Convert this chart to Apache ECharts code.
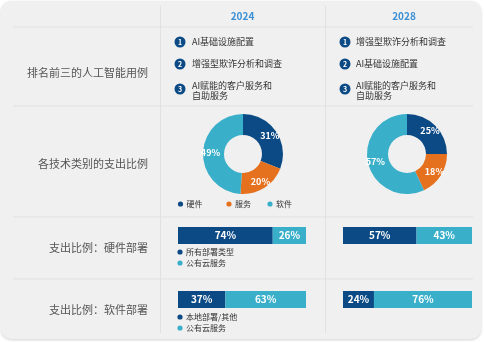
<!DOCTYPE html>
<html>
<head>
<meta charset="utf-8">
<script src="https://cdn.jsdelivr.net/npm/echarts@6/dist/echarts.min.js"></script>
<style>
  html, body { margin: 0; padding: 0; background: #ffffff; }
  #chart { width: 484px; height: 342px; }
</style>
</head>
<body>
<div id="chart"></div>
<script>
// Column headings
const years = ['2024', '2028'];

// Row headings (left column)
const rowLabels = ['排名前三的人工智能用例', '各技术类别的支出比例', '支出比例：硬件部署', '支出比例：软件部署'];

// Top three AI use cases per year
const useCases2024 = ['AI基础设施配置', '增强型欺诈分析和调查', 'AI赋能的客户服务和\n自助服务'];
const useCases2028 = ['增强型欺诈分析和调查', 'AI基础设施配置', 'AI赋能的客户服务和\n自助服务'];

// Spending share by technology category (%)
const techCategories = ['硬件', '服务', '软件'];
const techShare2024 = [31, 20, 49];
const techShare2028 = [25, 18, 57];

// Hardware deployment spending share (%)
const hwDeployCategories = ['所有部署类型', '公有云服务'];
const hwDeploy2024 = [74, 26];
const hwDeploy2028 = [57, 43];

// Software deployment spending share (%)
const swDeployCategories = ['本地部署/其他', '公有云服务'];
const swDeploy2024 = [37, 63];
const swDeploy2028 = [24, 76];

const DARK = '#0b4a84';
const ORANGE = '#e5711f';
const TEAL = '#39afca';
const LINE = '#e1e1e1';
const FONT = '"Noto Sans CJK SC", "Noto Sans", sans-serif';

const chart = echarts.init(document.getElementById('chart'), null, { renderer: 'canvas' });

const colYearCenter = [242.5, 404];
const colLeft = [178, 343];
const listX = [[180, 192], [345, 356]];

const graphics = [];

// panel background
graphics.push({
  type: 'rect', z: -10, silent: true,
  shape: { x: 1, y: 1, width: 480, height: 338, r: 10 },
  style: { fill: '#f0f0f0', shadowBlur: 3, shadowColor: 'rgba(0,0,0,0.18)', shadowOffsetY: 1 }
});

// grid lines
[27, 106, 217, 279].forEach(y => graphics.push({
  type: 'line', z: -5, silent: true,
  shape: { x1: 13, y1: y, x2: 473, y2: y },
  style: { stroke: LINE, lineWidth: 1 }
}));
[160.5, 325.5].forEach(x => graphics.push({
  type: 'line', z: -5, silent: true,
  shape: { x1: x, y1: 6, x2: x, y2: 333 },
  style: { stroke: LINE, lineWidth: 1 }
}));

// year headings
years.forEach((yr, i) => graphics.push({
  type: 'text', x: colYearCenter[i], y: 16,
  style: { text: yr, fill: '#3b8fd4', font: 'bold 10px ' + FONT, align: 'center', verticalAlign: 'middle' }
}));

// row headings
const rowY = [73, 164, 248, 310];
rowLabels.forEach((t, i) => graphics.push({
  type: 'text', x: 148, y: rowY[i],
  style: { text: t, fill: '#555555', font: '11px ' + FONT, align: 'right', verticalAlign: 'middle' }
}));

// numbered use-case lists
const itemY = [42, 64, 89];
[useCases2024, useCases2028].forEach((list, c) => {
  list.forEach((t, k) => {
    graphics.push({
      type: 'circle', x: listX[c][0], y: itemY[k],
      shape: { cx: 0, cy: 0, r: 5.5 },
      style: { fill: DARK }
    });
    graphics.push({
      type: 'text', x: listX[c][0], y: itemY[k] + 0.5,
      style: { text: String(k + 1), fill: '#ffffff', font: 'bold 7px ' + FONT, align: 'center', verticalAlign: 'middle' }
    });
    const multi = t.indexOf('\n') >= 0;
    graphics.push({
      type: 'text', x: listX[c][1], y: multi ? itemY[k] - 8 : itemY[k],
      style: {
        text: t, fill: '#333333', font: '9px ' + FONT, lineHeight: 10,
        align: 'left', verticalAlign: multi ? 'top' : 'middle'
      }
    });
  });
});

// legend markers
function legendItem(x, y, color, text) {
  graphics.push({ type: 'circle', x: x, y: y, shape: { cx: 0, cy: 0, r: 2.6 }, style: { fill: color } });
  graphics.push({
    type: 'text', x: x + 6, y: y,
    style: { text: text, fill: '#333333', font: '8px ' + FONT, align: 'left', verticalAlign: 'middle' }
  });
}
const pieColors = [DARK, ORANGE, TEAL];
[180.5, 229, 270].forEach((x, i) => legendItem(x, 204, pieColors[i], techCategories[i]));
legendItem(180, 252, DARK, hwDeployCategories[0]);
legendItem(180, 263, TEAL, hwDeployCategories[1]);
legendItem(180, 317, DARK, swDeployCategories[0]);
legendItem(180, 328, TEAL, swDeployCategories[1]);

// donut series
function donut(values, cx) {
  return {
    type: 'pie', center: [cx, 154], radius: [19, 40],
    startAngle: 90, clockwise: true, silent: true,
    itemStyle: { borderWidth: 0 },
    label: {
      show: true, position: 'inside', formatter: '{c}%',
      color: '#ffffff', fontSize: 9, fontWeight: 'bold', fontFamily: FONT
    },
    labelLine: { show: false },
    data: values.map((v, i) => ({ name: techCategories[i], value: v, itemStyle: { color: pieColors[i] } }))
  };
}

// stacked share bars, one grid each
const barBlocks = [
  { vals: hwDeploy2024, cats: hwDeployCategories, left: colLeft[0], width: 128, top: 227 },
  { vals: hwDeploy2028, cats: hwDeployCategories, left: colLeft[1], width: 129, top: 227 },
  { vals: swDeploy2024, cats: swDeployCategories, left: colLeft[0], width: 128, top: 291 },
  { vals: swDeploy2028, cats: swDeployCategories, left: colLeft[1], width: 129, top: 291 }
];
const grids = [], xAxes = [], yAxes = [], series = [];
barBlocks.forEach((b, g) => {
  grids.push({ left: b.left, top: b.top, width: b.width, height: 17 });
  xAxes.push({ type: 'value', gridIndex: g, min: 0, max: 100, show: false });
  yAxes.push({ type: 'category', gridIndex: g, data: ['share'], show: false });
  b.vals.forEach((v, k) => series.push({
    type: 'bar', xAxisIndex: g, yAxisIndex: g, stack: 'deploy' + g,
    name: b.cats[k], barWidth: 17, silent: true,
    itemStyle: { color: k === 0 ? DARK : TEAL },
    label: {
      show: true, position: 'inside', formatter: '{c}%',
      color: '#ffffff', fontSize: 10, fontWeight: 'bold', fontFamily: FONT
    },
    data: [v]
  }));
});

series.push(donut(techShare2024, 243));
series.push(donut(techShare2028, 407));

chart.setOption({
  animation: false,
  backgroundColor: '#ffffff',
  grid: grids,
  xAxis: xAxes,
  yAxis: yAxes,
  graphic: { elements: graphics },
  series: series
});
</script>
</body>
</html>
